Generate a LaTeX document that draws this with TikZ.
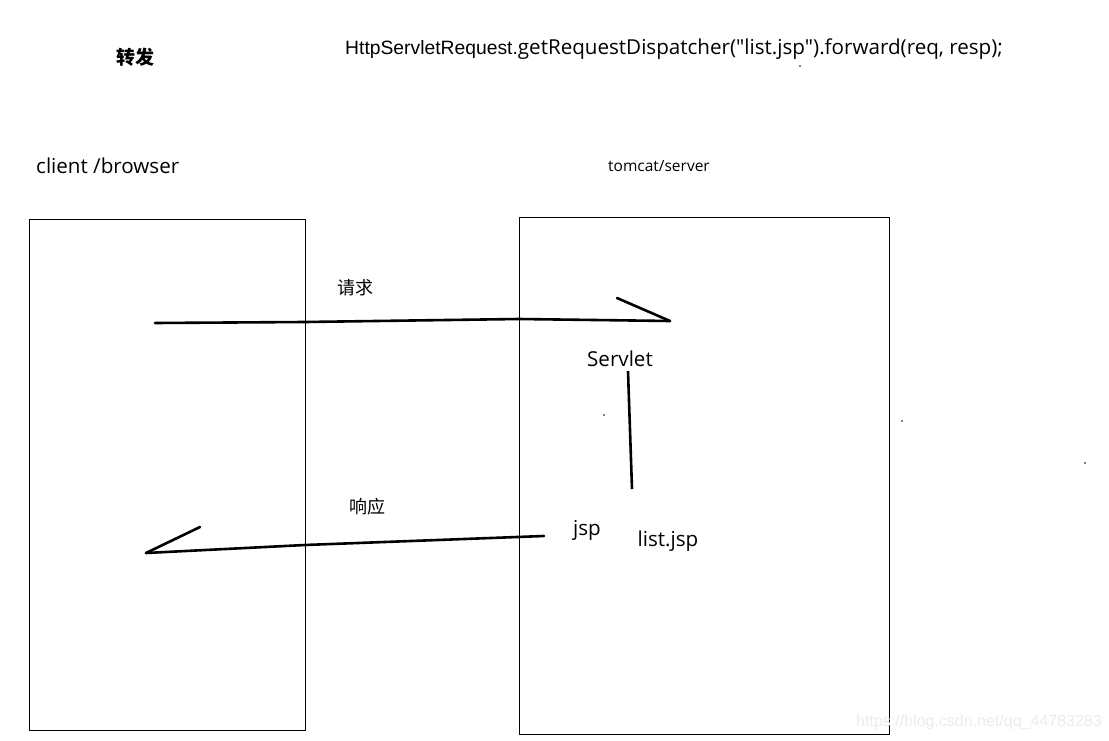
\documentclass[tikz,border=0pt]{standalone}
\usepackage{fontspec}
\setmainfont{Open Sans}[Ligatures=TeXOff]
\newfontfamily\cjk{Noto Sans CJK SC}
\newfontfamily\codefont{Liberation Sans}
\usetikzlibrary{positioning}

\begin{document}
\begin{tikzpicture}[
        x=1pt, y=-1pt,
        % frames for client and server
        sideBox/.style={
            draw=black,
            line width=0.9pt
        },
        % thick hand-drawn strokes
        handLine/.style={
            draw=black,
            line width=2.6pt,
            line cap=round
        },
        % text labels
        txt/.style={
            inner sep=0pt,
            font=\fontsize{20.6}{24}\selectfont
        },
        smallTxt/.style={
            inner sep=0pt,
            font=\fontsize{15.5}{18}\selectfont
        },
        cnTxt/.style={
            inner sep=0pt,
            font=\cjk\fontsize{18}{22}\selectfont
        }
    ]
    \useasboundingbox[fill=white] (0,0) rectangle (1109,741);

    % Title and code line
    \node[cnTxt, font=\cjk\bfseries\fontsize{19}{22}\selectfont] (title) at (135,57) {转发};
    \node[txt, anchor=west] (code) at (345,49) {{\codefont\fontsize{19.3}{22}\selectfont HttpServletRequest.}getRequestDispatcher("list.jsp").forward(req, resp);};

    % Client and server
    \node[txt, anchor=west] (clientLbl) at (36,166) {client /browser};
    \node[smallTxt] (serverLbl) at (659,166) {tomcat/server};
    \draw[sideBox] (29,219) rectangle (305,730);
    \draw[sideBox] (519,217) rectangle (889,734);

    % Server side labels
    \node[txt] (servlet) at (620,359) {Servlet};
    \node[txt] (jsp) at (587,530) {jsp};
    \node[txt] (listjsp) at (668,541) {list.jsp};

    % Request
    \coordinate (reqStart) at (155,323);
    \coordinate (reqTip) at (670,321);
    \coordinate (reqBarb) at (617,298);
    \node[cnTxt] (reqLbl) at (355,288) {请求};
    \draw[handLine] (reqStart) -- (305,322) -- (519,319) -- (reqTip);
    \draw[handLine] (reqTip) -- (reqBarb);

    % Forward inside the server
    \coordinate (fwdTop) at (628,371);
    \coordinate (fwdBottom) at (632,489);
    \draw[handLine, line cap=butt] (fwdTop) -- (fwdBottom);

    % Response
    \coordinate (respStart) at (544,536);
    \coordinate (respTip) at (146,553);
    \coordinate (respBarb) at (200,527);
    \node[cnTxt] (respLbl) at (367,507) {响应};
    \draw[handLine] (respStart) -- (305,545) -- (respTip);
    \draw[handLine] (respTip) -- (respBarb);

    % stray dots
    \foreach \px/\py in {604/415, 902/421, 1085/463, 800/66}
        \fill (\px,\py) circle (0.8);

    % watermark
    \node[inner sep=0pt, text=gray!15, font=\codefont\fontsize{16}{18}\selectfont] (mark) at (979,722) {https://blog.csdn.net/qq\_44783283};
\end{tikzpicture}
\end{document}
